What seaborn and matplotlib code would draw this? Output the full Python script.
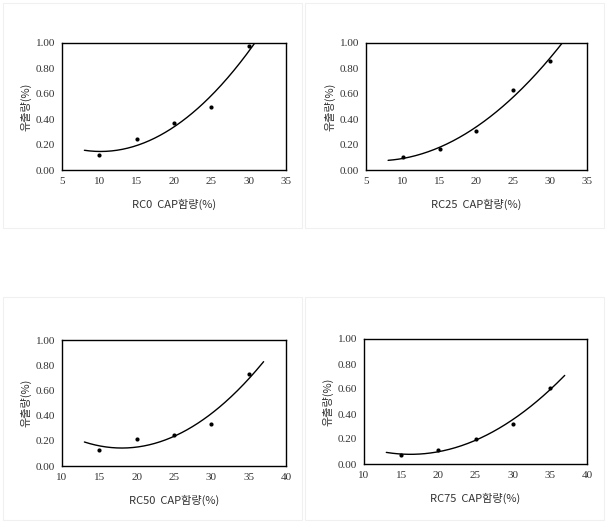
import numpy as np
import matplotlib
matplotlib.use("Agg")
import matplotlib.pyplot as plt
import seaborn as sns

x_top = [10, 15, 20, 25, 30]
x_bot = [15, 20, 25, 30, 35]
rc0 = [0.116, 0.242, 0.371, 0.495, 0.974]
rc25 = [0.103, 0.166, 0.308, 0.632, 0.860]
rc50 = [0.125, 0.217, 0.244, 0.337, 0.729]
rc75 = [0.069, 0.115, 0.203, 0.320, 0.608]
names = ["RC0", "RC25", "RC50", "RC75"]

sns.set_theme(style="white")
plt.rcParams["font.family"] = ["Noto Sans CJK KR", "DejaVu Sans"]

W, H = 606, 529
fig = plt.figure(figsize=(W / 100, H / 100), dpi=100)

# faint panel frames
for (l, t, r, b) in [(3, 3, 302, 228), (305, 3, 604, 228),
                     (3, 297, 302, 520), (305, 297, 604, 520)]:
    fig.add_artist(plt.Rectangle((l / W, 1 - b / H), (r - l) / W, (b - t) / H,
                                 transform=fig.transFigure, fill=False,
                                 edgecolor="#f0f0f0", lw=0.8))

panels = [
    (rc0, x_top, (5, 35), (62, 43, 286, 170)),
    (rc25, x_top, (5, 35), (366, 43, 587, 170)),
    (rc50, x_bot, (10, 40), (62, 340, 286, 466)),
    (rc75, x_bot, (10, 40), (364, 339, 587, 464)),
]

for name, (y, x, xlim, (l, t, r, b)) in zip(names, panels):
    ax = fig.add_axes([l / W, 1 - b / H, (r - l) / W, (b - t) / H])
    # Excel-style 2nd order trendline, extended 2 units each side
    coef = np.polyfit(x, y, 2)
    xs = np.linspace(x[0] - 2, x[-1] + 2, 200)
    sns.lineplot(x=xs, y=np.polyval(coef, xs), ax=ax, color="black", lw=1.0)
    sns.scatterplot(x=x, y=y, ax=ax, color="black", marker="o", s=9,
                    edgecolor="black", linewidth=0, zorder=3)
    ax.set_xlim(*xlim)
    ax.set_ylim(0, 1.0)
    ax.set_xticks(np.arange(xlim[0], xlim[1] + 1, 5))
    ax.set_yticks(np.arange(0, 1.01, 0.2))
    ax.set_yticklabels([f"{v:.2f}" for v in np.arange(0, 1.01, 0.2)])
    ax.tick_params(direction="in", length=3, width=0.8, labelsize=8,
                   colors="#333333", pad=5)
    for lab in ax.get_xticklabels() + ax.get_yticklabels():
        lab.set_family(["Liberation Serif"])
    for sp in ax.spines.values():
        sp.set_color("black")
        sp.set_linewidth(1.0)
    ax.set_xlabel(f"{name}  CAP함량(%)", fontsize=8, color="#333333", labelpad=9)
    ax.set_ylabel("유출량(%)", fontsize=8, color="#333333", labelpad=3)

fig.savefig("out.png", dpi=100)
